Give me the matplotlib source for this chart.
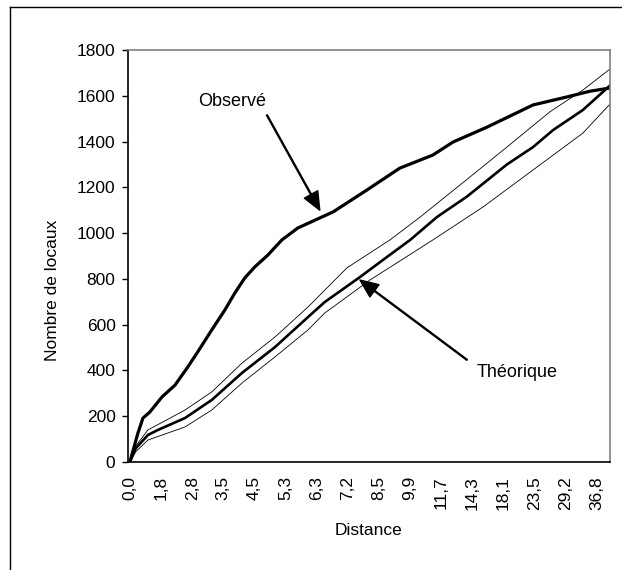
import numpy as np
import matplotlib.pyplot as plt
from matplotlib.lines import Line2D

plt.rcParams['font.family'] = ['Liberation Sans', 'DejaVu Sans']

# libellés de distance (un toutes les 100 observations triées)
tick_labels = ["0,0", "1,8", "2,8", "3,5", "4,5", "5,3", "6,3", "7,2",
               "8,5", "9,9", "11,7", "14,3", "18,1", "23,5", "29,2", "36,8"]
tick_pos = np.arange(len(tick_labels)) * 100

# courbe observée (rang, nombre de locaux cumulé)
obs_rank = [0, 26, 42, 64, 103, 145, 186, 218, 263, 305, 337, 369, 401, 443, 488,
            539, 616, 652, 761, 867, 973, 1038, 1147, 1295, 1404, 1478, 1542]
obs_val = [0, 127, 192, 218, 284, 336, 415, 481, 577, 664, 738, 804, 852, 904, 970,
           1022, 1070, 1092, 1188, 1284, 1341, 1398, 1463, 1560, 1595, 1620, 1634]

# courbe théorique (moyenne)
theo_rank = [0, 19, 58, 90, 177, 263, 360, 466, 572, 626, 739, 826, 900, 986,
             1083, 1211, 1295, 1359, 1455, 1542]
theo_val = [0, 60, 118, 140, 192, 271, 389, 502, 633, 699, 808, 896, 970, 1070,
            1160, 1300, 1376, 1450, 1538, 1645]

# enveloppe haute
up_rank = [0, 19, 58, 177, 263, 360, 466, 572, 626, 697, 835, 932, 1083, 1211,
           1349, 1455, 1542]
up_val = [0, 70, 140, 227, 306, 432, 546, 677, 751, 848, 970, 1070, 1235, 1376,
          1530, 1625, 1717]

# enveloppe basse
low_rank = [0, 19, 58, 177, 263, 360, 466, 572, 626, 771, 973, 1134, 1295, 1455, 1542]
low_val = [0, 45, 96, 153, 227, 345, 459, 577, 651, 795, 970, 1114, 1276, 1437, 1564]

fig = plt.figure(figsize=(6.22, 5.70), dpi=100)
ax = fig.add_axes([128 / 622, 108 / 570, 482 / 622, 412 / 570])

ax.plot(up_rank, up_val, color='black', lw=0.6)
ax.plot(low_rank, low_val, color='black', lw=0.6)
ax.plot(theo_rank, theo_val, color='black', lw=1.9)
ax.plot(obs_rank, obs_val, color='black', lw=2.3)

ax.set_xlim(-6, 1542)
ax.set_ylim(0, 1800)
ax.set_yticks(np.arange(0, 1801, 200))
ax.set_xticks(tick_pos)
ax.set_xticklabels(tick_labels, rotation=90)
ax.tick_params(axis='x', length=0, pad=10, labelsize=12.5)
ax.tick_params(axis='y', length=4, width=1, pad=5, labelsize=12.5)

for s in ['top', 'right']:
    ax.spines[s].set_color('#808080')
    ax.spines[s].set_linewidth(1.2)
for s in ['left', 'bottom']:
    ax.spines[s].set_color('black')
    ax.spines[s].set_linewidth(1.2)

ax.set_ylabel("Nombre de locaux", fontsize=12.5)
ax.yaxis.set_label_coords(-0.141, 0.417)
ax.set_xlabel("Distance", fontsize=12.5)
ax.xaxis.set_label_coords(0.5, -0.148)

# annotations
arrow = dict(width=0.7, headwidth=11, headlength=13, facecolor='black', edgecolor='black')
ax.text(328, 1573, "Observé", fontsize=13, ha='center', va='center')
ax.annotate("", xy=(610, 1100), xytext=(440, 1516), arrowprops=arrow)
ax.text(1243, 389, "Théorique", fontsize=13, ha='center', va='center')
ax.annotate("", xy=(739, 795), xytext=(1083, 446), arrowprops=arrow)

# cadre extérieur
fig.add_artist(Line2D([10 / 622, 10 / 622], [0, 1 - 7 / 570], color='black', lw=1))
fig.add_artist(Line2D([10 / 622, 1], [1 - 7 / 570, 1 - 7 / 570], color='black', lw=1))

fig.savefig("out.png", dpi=100)
